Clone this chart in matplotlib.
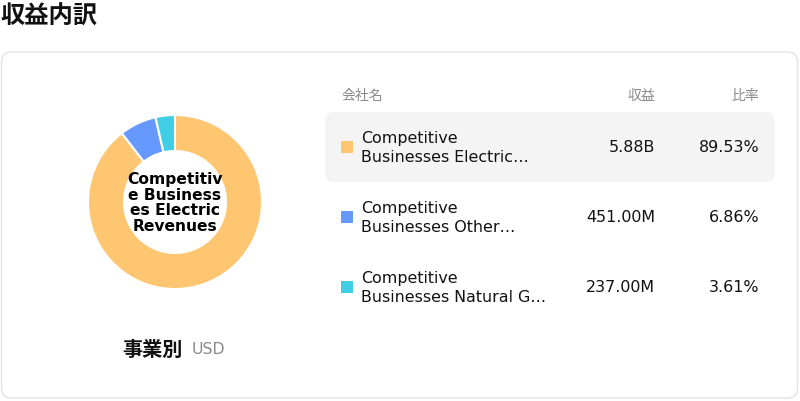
import matplotlib
matplotlib.use("Agg")
import matplotlib.pyplot as plt
from matplotlib.patches import FancyBboxPatch, Rectangle

# data
segments = ["Competitive\nBusinesses Electric…",
            "Competitive\nBusinesses Other…",
            "Competitive\nBusinesses Natural G…"]
revenue = [5880.0, 451.0, 237.0]  # millions USD
revenue_labels = ["5.88B", "451.00M", "237.00M"]
share_labels = ["89.53%", "6.86%", "3.61%"]
colors = ["#FFC671", "#6699FF", "#40CEE6"]
center_label = "Competitiv\ne Business\nes Electric\nRevenues"

JP = ["Noto Sans CJK JP", "DejaVu Sans"]
W, H = 800, 402

fig = plt.figure(figsize=(8, 4.02), dpi=100)
bg = fig.add_axes([0, 0, 1, 1])
bg.set_xlim(0, W)
bg.set_ylim(H, 0)
bg.axis("off")

# title
bg.text(0, 17, "収益内訳", family=JP, fontsize=17.5, fontweight="bold",
        va="center", ha="left", color="#111111")

# card
card = FancyBboxPatch((1.5, 53), 796, 346, boxstyle="round,pad=0,rounding_size=10",
                      facecolor="white", edgecolor="#E2E2EA", linewidth=1)
bg.add_patch(card)

# header
bg.text(342, 96, "会社名", family=JP, fontsize=10, color="#8A8A8A", va="center", ha="left")
bg.text(655, 96, "収益", family=JP, fontsize=10, color="#8A8A8A", va="center", ha="right")
bg.text(759, 96, "比率", family=JP, fontsize=10, color="#8A8A8A", va="center", ha="right")

# highlighted first row
hl = FancyBboxPatch((325, 113), 450, 70, boxstyle="round,pad=0,rounding_size=9",
                    facecolor="#F4F4F4", edgecolor="none")
bg.add_patch(hl)

row_y = [148, 218, 288]
for i, name in enumerate(segments):
    y = row_y[i]
    bg.add_patch(Rectangle((341, y - 6), 12, 12, facecolor=colors[i], edgecolor="none"))
    bg.text(361, y, name, family="DejaVu Sans", fontsize=11.4, color="#111111",
            va="center", ha="left", linespacing=1.32)
    bg.text(655, y, revenue_labels[i], family="DejaVu Sans", fontsize=11.4,
            color="#111111", va="center", ha="right")
    bg.text(759, y, share_labels[i], family="DejaVu Sans", fontsize=11.4,
            color="#111111", va="center", ha="right")

# bottom caption
bg.text(183, 349, "事業別", family=JP, fontsize=14.5, fontweight="bold",
        color="#111111", va="center", ha="right")
bg.text(192, 350, "USD", family="DejaVu Sans", fontsize=11.3, color="#8A8A8A",
        va="center", ha="left")

# donut
cx, cy, r = 175, 203, 90
ax = fig.add_axes([(cx - r) / W, 1 - (cy + r) / H, 2 * r / W, 2 * r / H])
ax.pie(revenue, colors=colors, startangle=90, counterclock=False, radius=87,
       wedgeprops=dict(width=36, edgecolor="white", linewidth=1.5))
ax.set_xlim(-r, r)
ax.set_ylim(-r, r)
ax.set_aspect("equal")
ax.axis("off")
ax.text(0, 0, center_label, family="DejaVu Sans", fontsize=11.2, fontweight="bold",
        ha="center", va="center", linespacing=1.08, color="#000000")

fig.savefig("out.png", dpi=100)
